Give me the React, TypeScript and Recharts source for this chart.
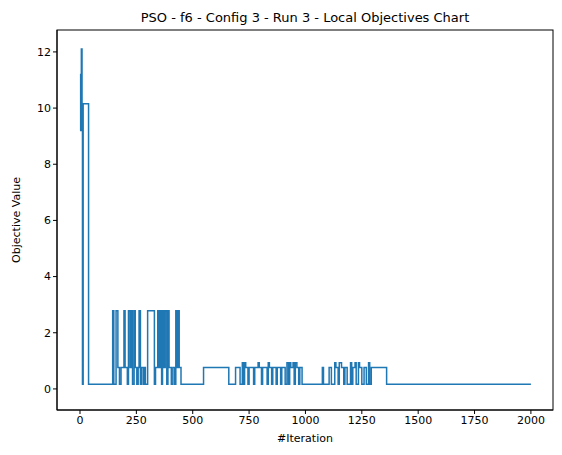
import React from 'react';
import { LineChart, Line, XAxis, YAxis } from 'recharts';

const iterations = [
  0, 3, 6, 9, 11, 14, 38,
  145, 150, 160, 168, 175, 182, 195, 200, 210, 215, 222, 228, 233, 240, 245, 252, 258, 262, 268, 272, 280, 285, 290,
  300, 330, 335, 345, 350, 356, 362, 366, 372, 378, 385, 390, 395, 405, 412, 420, 425, 430, 435, 440, 448,
  548, 660, 690, 710, 720, 725, 730, 735, 745, 750, 770, 775, 790, 795, 805, 810, 830, 835, 840, 850, 855, 870, 875,
  890, 895, 910, 918, 925, 930, 935, 945, 950, 955, 962, 970, 975, 985,
  1075, 1080, 1105, 1115, 1130, 1135, 1145, 1150, 1160, 1170, 1175, 1185, 1200, 1205, 1210, 1220, 1225, 1235, 1240,
  1250, 1260, 1270, 1280, 1285, 1292, 1360, 2000,
];

const objectives = [
  9.2, 11.2, 12.1, 9.2, 0.17, 10.15, 0.17,
  2.78, 0.17, 2.78, 0.76, 0.17, 0.76, 2.78, 0.76, 0.17, 2.78, 0.76, 2.78, 0.17, 2.78, 0.76, 0.17, 0.76, 2.78, 0.17, 0.76, 0.17, 0.76, 0.17,
  2.78, 0.17, 0.76, 2.78, 0.76, 2.78, 0.17, 2.78, 0.76, 2.78, 0.17, 2.78, 0.76, 0.17, 0.76, 0.17, 2.78, 0.76, 2.78, 0.76, 0.17,
  0.76, 0.17, 0.76, 0.17, 0.93, 0.17, 0.93, 0.76, 0.17, 0.76, 0.17, 0.76, 0.93, 0.76, 0.17, 0.76, 0.17, 0.93, 0.76, 0.17, 0.76, 0.17, 0.76,
  0.17, 0.76, 0.17, 0.93, 0.17, 0.93, 0.76, 0.93, 0.17, 0.93, 0.76, 0.17, 0.76, 0.17,
  0.76, 0.17, 0.76, 0.17, 0.93, 0.76, 0.17, 0.93, 0.76, 0.17, 0.76, 0.17, 0.93, 0.17, 0.76, 0.93, 0.17, 0.93, 0.76,
  0.17, 0.76, 0.17, 0.93, 0.17, 0.76, 0.17, 0.17,
];

const xTicks = [0, 250, 500, 750, 1000, 1250, 1500, 1750, 2000];
const yTicks = [0, 2, 4, 6, 8, 10, 12];

const data = iterations.map((it, i) => ({ it, value: objectives[i] }));

const tickStyle = { fontSize: 11, fill: '#000' };

export default function App() {
  return (
    <div style={{ position: 'absolute', left: 0, top: 0, background: '#fff', fontFamily: 'DejaVu Sans' }}>
      <LineChart width={562} height={455} data={data} margin={{ top: 30, right: 9, left: 17, bottom: 15 }}>
        <text x={305} y={22} textAnchor="middle" fontSize={13} fill="#000">
          PSO - f6 - Config 3 - Run 3 - Local Objectives Chart
        </text>
        <text x={305} y={442} textAnchor="middle" fontSize={11} fill="#000">#Iteration</text>
        <text x={20} y={220} textAnchor="middle" fontSize={11} fill="#000" transform="rotate(-90 20 220)">
          Objective Value
        </text>
        <rect x={57} y={30} width={496} height={380} fill="none" stroke="#000" strokeWidth={1} />
        <XAxis
          dataKey="it"
          type="number"
          domain={[-102, 2098]}
          ticks={xTicks}
          allowDataOverflow
          tick={tickStyle}
          tickSize={4}
          height={30}
          stroke="#000"
        />
        <YAxis
          type="number"
          domain={[-0.75, 12.78]}
          ticks={yTicks}
          allowDataOverflow
          tick={tickStyle}
          tickSize={4}
          width={40}
          stroke="#000"
        />
        <Line
          type="stepAfter"
          dataKey="value"
          stroke="#1f77b4"
          strokeWidth={1.5}
          dot={false}
          isAnimationActive={false}
        />
      </LineChart>
    </div>
  );
}
